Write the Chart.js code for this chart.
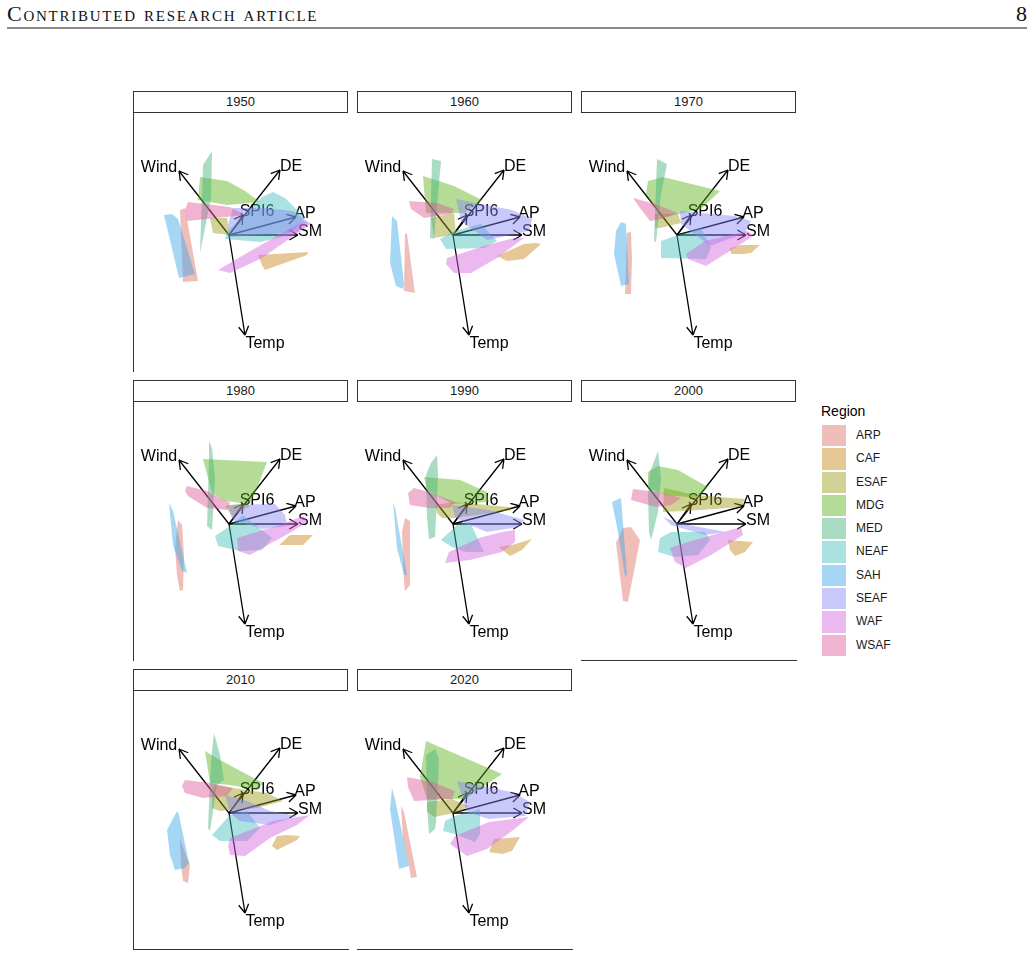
<!DOCTYPE html>
<html>
<head>
<meta charset="utf-8">
<script src="https://cdn.jsdelivr.net/npm/chart.js@4.4.0/dist/chart.umd.min.js"></script>
<style>
  body { margin: 0; background: #fff; }
  #page { position: relative; width: 1033px; height: 957px; overflow: hidden; font-family: "Liberation Sans", Arial, sans-serif; }
  #runhead { position: absolute; left: 7px; top: 1px; font: 22px "Liberation Serif", serif; font-variant: small-caps; letter-spacing: 1.75px; color: #111; white-space: nowrap; }
  #pagenum { position: absolute; right: 6px; top: 1px; font: 22px "Liberation Serif", serif; color: #111; }
  #rule { position: absolute; left: 7px; top: 27px; width: 1020px; height: 2px; background: #8a8a8a; }
  .strip { position: absolute; box-sizing: border-box; width: 215px; height: 22px; border: 1.5px solid #333; background: #fff;
           font-size: 13px; color: #1a1a1a; text-align: center; line-height: 19px; }
  .panel { position: absolute; }
  .axisline { position: absolute; background: #333; }
  #legend { position: absolute; left: 821px; top: 402px; }
  #legend .title { font-size: 14px; color: #000; height: 22px; line-height: 18px; }
  #legend .item { position: relative; height: 23.3px; }
  #legend .key { position: absolute; left: 1px; top: 1px; width: 24px; height: 21.3px; }
  #legend .lab { position: absolute; left: 35px; top: 0; line-height: 23.3px; font-size: 12px; color: #1a1a1a; }
</style>
</head>
<body>
<div id="page">
  <div id="runhead">Contributed research article</div>
  <div id="pagenum">8</div>
  <div id="rule"></div>
  <div id="legend"><div class="title">Region</div></div>
</div>
<script>
const regions = ["ARP", "CAF", "ESAF", "MDG", "MED", "NEAF", "SAH", "SEAF", "WAF", "WSAF"];
const regionColors = ["#DE6F63", "#C78516", "#9B9B16", "#58B116", "#42B17A", "#42BCBC", "#37A6E9", "#8585F4", "#D363DE", "#DE589B"];
const decades = ["1950", "1960", "1970", "1980", "1990", "2000", "2010", "2020"];

// variable loadings (arrow tips) and label anchors
const variables = ["Wind", "DE", "SPI6", "AP", "SM", "Temp"];
const loadingX = [-5.0, 5.1, 1.4, 6.7, 6.9, 1.6];
const loadingY = [6.4, 6.5, 2.0, 1.8, 0.0, -10.0];
const labelX = [-7.0, 6.2, 2.8, 7.6, 8.1, 3.6];
const labelY = [6.7, 6.8, 2.3, 2.1, 0.3, -10.9];

// convex hulls per region (same order as regions), one array per decade
const hull1950 = [
  [[-4.9,2.5],[-4.4,2.7],[-3.1,-4.6],[-4.6,-4.7]],
  [[2.9,-2.0],[7.9,-1.7],[7.8,-2.0],[3.6,-3.5],[3.3,-3.0]],
  [[-1.9,1.7],[-0.2,1.7],[0.1,0],[-1.6,0.2]],
  [[-2.9,5.8],[-0.2,5.4],[1.6,4.4],[3.1,3.3],[-0.2,3.0],[-3.1,3.5]],
  [[-2.6,7.0],[-1.7,8.4],[-1.8,3.7],[-2.9,-1.8]],
  [[4.4,4.3],[5.6,3.7],[7.6,1.7],[6.1,0],[3.1,-0.7],[-0.4,-0.4],[-0.2,0.3],[3.3,3.8]],
  [[-6.5,2.0],[-5.7,2.1],[-5.1,1.6],[-3.4,-3.9],[-5.0,-4.3]],
  [[0.4,2.7],[3.4,2.7],[6.4,2.4],[7.9,1.3],[6.9,0.3],[0.1,-0.2],[-0.1,1.0]],
  [[-1.1,-3.5],[0.1,-3.8],[3.3,-2.3],[8.3,1.2],[7.4,1.4],[1.8,-1.8]],
  [[-4.1,3.3],[0.1,2.8],[1.6,2.0],[-3.2,1.5],[-4.2,1.4],[-4.4,2.5]]
];
const hull1960 = [
  [[-4.8,0.2],[-4.6,0.1],[-3.8,-5.8],[-4.9,-5.6]],
  [[4.4,-2.1],[7.1,-0.9],[8.3,-0.8],[8.8,-0.9],[7.1,-2.4],[5.4,-2.6]],
  [[-2.2,1.7],[0.1,2.2],[0.3,0.1],[-1.9,-0.3]],
  [[-3.0,5.9],[0.1,4.9],[2.9,3.5],[1.1,2.2],[-2.7,2.2]],
  [[-2.1,7.6],[-1.2,7.4],[-1.9,-0.4],[-2.3,-0.3]],
  [[-1.3,-0.4],[0.1,0.4],[2.8,1.1],[4.4,-0.6],[3.1,-1.3],[-0.7,-1.4]],
  [[-6.1,1.9],[-5.6,1.4],[-4.9,-4.9],[-5.0,-5.4],[-5.7,-5.1],[-6.3,-2.8]],
  [[0.3,3.6],[2.8,3.1],[5.9,2.5],[7.9,1.6],[7.6,0.4],[3.4,-0.5],[0.8,1.4]],
  [[-0.7,-2.9],[0.1,-3.8],[1.8,-3.8],[4.4,-2.3],[7.1,-0.3],[6.1,-0.3],[3.1,-1.1],[-0.6,-2.3]],
  [[-4.4,3.4],[-1.6,3.2],[0.1,2.6],[-0.2,2.1],[-2.9,1.7],[-4.2,2.6]]
];
const hull1970 = [
  [[-5.0,0.2],[-4.6,0.3],[-4.5,-2.4],[-4.6,-5.9],[-5.2,-5.9]],
  [[5.3,-1.3],[6.4,-1.0],[8.3,-1.0],[7.4,-1.8],[6.6,-1.9],[5.4,-1.9]],
  [[-2.2,2.1],[0.1,2.1],[0.4,1.2],[-1.7,0.7],[-2.2,0.7]],
  [[-2.9,5.4],[-1.4,5.8],[4.3,4.4],[2.4,2.6],[-1.6,1.7],[-3.1,4.1]],
  [[-2.0,7.6],[-1.0,7.1],[-1.6,4.1],[-2.1,-0.7],[-2.3,-0.6]],
  [[-1.6,-0.6],[0.1,0],[2.4,0.7],[3.4,-1.3],[2.9,-2.4],[-1.6,-2.3]],
  [[-5.6,1.3],[-5.1,1.1],[-4.8,-4.9],[-5.6,-5.1],[-6.3,-1.9],[-6.1,0.4]],
  [[0.3,2.4],[5.8,1.9],[7.4,1.4],[6.8,0.2],[3.3,-1.1],[0.4,1.1]],
  [[0.9,-1.9],[2.8,-0.6],[7.1,0.4],[7.6,-0.1],[6.4,-0.9],[2.9,-3.1],[1.1,-2.4]],
  [[-4.4,3.7],[-2.2,3.1],[0.1,2.2],[-1.6,1.6],[-2.7,1.4],[-3.7,2.7]]
];
const hull1980 = [
  [[-5.1,0.4],[-4.7,-0.1],[-4.5,-3.2],[-4.6,-6.6],[-4.9,-6.7],[-5.2,-5.1],[-5.4,-2.4]],
  [[5.0,-2.1],[6.1,-1.1],[8.4,-1.1],[7.4,-2.1]],
  [[-0.4,1.8],[1.6,2.1],[2.1,1.8],[0.3,0.8]],
  [[-2.6,6.5],[3.8,6.2],[2.8,3.6],[2.1,2.0],[-0.4,2.3],[-1.7,3.1]],
  [[-2.0,8.3],[-1.7,7.6],[-1.4,4.6],[-1.7,-0.6],[-2.2,-0.2],[-2.0,6.6]],
  [[-1.4,-1.2],[0.1,-0.2],[1.4,0.9],[4.3,-1.4],[3.3,-2.6],[1.1,-2.7],[-1.1,-2.2]],
  [[-6.0,2.1],[-5.6,1.3],[-4.2,-4.9],[-4.7,-4.7],[-5.6,-2.1]],
  [[-0.2,1.9],[4.6,2.0],[5.6,0.9],[5.8,-0.2],[3.4,-0.5],[0.4,0.4]],
  [[0.8,-1.4],[4.8,-0.2],[7.4,0.8],[7.9,0.3],[6.4,-0.7],[2.1,-3.1],[0.9,-2.7]],
  [[-4.2,3.8],[-2.2,3.3],[0.1,2.1],[-0.2,1.4],[-2.2,1.6],[-4.1,2.8],[-4.4,3.3]]
];
const hull1990 = [
  [[-4.8,0.6],[-4.3,0.3],[-4.3,-6.1],[-4.8,-6.7],[-4.9,-5.8],[-5.1,-0.8]],
  [[4.6,-2.3],[5.9,-2.1],[7.9,-1.5],[6.9,-2.6],[5.7,-3.2]],
  [[-1.8,1.9],[0.2,2.2],[5.6,1.7],[5.9,1.4],[0.2,0.6],[-1.1,0.6],[-1.6,1.1]],
  [[-2.9,4.7],[0.7,4.4],[3.4,3.2],[3.6,2.2],[-0.1,2.0],[-2.6,3.4]],
  [[-1.6,6.9],[-1.5,4.9],[-1.8,-1.3],[-2.4,-1.5],[-2.6,0.6],[-2.7,4.9],[-2.2,6.1]],
  [[-1.2,-1.6],[0.4,-0.1],[1.7,0.2],[3.1,-2.8],[1.2,-2.8],[-0.1,-2.3]],
  [[-6.0,2.2],[-5.8,1.6],[-4.6,-5.1],[-4.9,-5.1],[-5.6,-2.4]],
  [[-0.1,1.9],[3.6,1.4],[7.1,0.4],[6.6,-0.3],[3.4,-0.8],[1.2,0.1],[0.2,0.7]],
  [[-0.8,-3.9],[-0.4,-2.8],[2.6,-1.4],[4.9,-0.8],[6.2,-0.6],[6.2,-1.8],[4.9,-2.8],[1.7,-3.6]],
  [[-3.9,3.6],[-2.4,3.2],[0.2,2.2],[-0.3,1.6],[-2.4,1.6],[-4.3,1.9],[-4.5,3.1]]
];
const hull2000 = [
  [[-6.1,-1.9],[-5.4,-0.4],[-4.6,-0.3],[-3.7,-1.6],[-4.9,-7.8],[-5.4,-7.7]],
  [[5.1,-1.6],[7.6,-1.8],[6.8,-2.8],[5.8,-3.2],[5.3,-2.6]],
  [[-1.3,3.6],[1.8,2.9],[6.8,2.5],[6.4,1.7],[2.4,1.4],[-1.4,1.2]],
  [[-2.9,5.2],[-1.9,5.8],[0.1,5.4],[3.1,3.7],[2.1,2.6],[-1.2,2.9],[-2.9,3.6]],
  [[-1.9,7.3],[-1.6,4.6],[-1.9,1.2],[-2.6,-1.6],[-2.8,-0.8],[-2.9,2.9],[-2.7,5.2]],
  [[-1.7,-1.4],[-0.6,-0.8],[2.8,-0.8],[3.3,-1.6],[2.1,-3.1],[-0.2,-3.3],[-1.9,-2.8]],
  [[-6.5,2.2],[-5.6,2.6],[-5.0,-5.1],[-5.2,-5.2],[-5.9,-0.8]],
  [[-1.4,0.7],[0.1,0.1],[4.9,-0.8],[2.8,-1.1],[-0.6,-0.1]],
  [[-0.7,-2.4],[1.1,-1.8],[6.4,-0.3],[6.6,-1.1],[3.4,-3.1],[0.9,-4.4],[-0.2,-3.8]],
  [[-4.4,3.5],[-1.9,3.2],[0.4,2.6],[-0.6,1.9],[-2.1,1.7],[-4.6,2.4]]
];
const hull2010 = [
  [[-4.9,-2.5],[-4.4,-4.0],[-3.9,-5.2],[-4.1,-7.0],[-4.6,-6.8],[-4.8,-5.2]],
  [[4.3,-3.3],[4.8,-2.3],[5.8,-2.2],[7.1,-2.3],[6.8,-2.7],[4.8,-3.7]],
  [[-1.4,2.8],[1.1,2.4],[3.8,2.0],[5.4,1.2],[2.8,0.5],[-0.9,0.2],[-1.7,0.5],[-1.7,2.2]],
  [[-2.4,6.2],[-0.9,5.3],[3.4,3.0],[2.8,2.3],[0.1,2.8],[-1.9,3.0]],
  [[-1.5,8.0],[-0.9,5.8],[-0.5,3.3],[-1.2,2.8],[-1.9,-1.8],[-2.1,-1.5],[-1.9,3.2],[-1.7,6.2]],
  [[-1.7,-2.2],[0.1,-0.2],[1.8,0.2],[3.1,-1.5],[1.8,-2.8],[-0.9,-2.8]],
  [[-5.2,0.2],[-5.0,-0.2],[-4.0,-5.0],[-4.4,-5.5],[-5.4,-5.7],[-5.9,-4.2],[-6.2,-1.7]],
  [[-0.4,1.8],[1.8,1.2],[4.1,0.2],[6.8,-0.3],[4.1,-1.2],[1.1,-0.8],[0.1,0]],
  [[-0.1,-3.3],[0.1,-2.5],[4.4,-0.8],[8.1,-0.2],[6.8,-1.2],[4.1,-2.5],[1.6,-4.3],[0.1,-4.2]],
  [[-4.4,3.3],[-1.9,3.0],[0.4,2.5],[-0.2,1.7],[-2.6,1.5],[-4.4,2.0],[-4.7,2.7]]
];
const hull2020 = [
  [[-5.2,0.7],[-4.9,0.1],[-3.6,-6.4],[-4.2,-6.5],[-4.4,-5.3],[-5.0,-2.6]],
  [[3.6,-3.9],[4.1,-2.6],[6.7,-2.4],[5.9,-3.8],[4.9,-4.1]],
  [[-2.6,1.1],[-0.1,1.4],[1.6,0.7],[0.6,0.1],[-1.9,-0.4],[-2.6,0.1]],
  [[-2.7,7.2],[4.9,3.9],[1.2,1.4],[-2.6,1.4],[-3.3,3.6]],
  [[-2.7,5.8],[-1.8,6.4],[-1.4,5.4],[-1.7,-0.9],[-1.8,-1.6],[-2.4,-2.1],[-2.6,0.7]],
  [[-0.8,-0.8],[0.2,-0.3],[2.7,0.4],[2.7,-2.1],[2.2,-2.9],[0.2,-2.1],[-1.0,-1.8]],
  [[-6.1,2.5],[-5.8,1.4],[-4.4,-5.3],[-5.4,-5.6],[-6.3,0.4]],
  [[0.4,3.2],[2.9,2.7],[5.9,2.1],[7.7,1.1],[7.2,-0.3],[3.6,-0.6],[1.4,0.1]],
  [[-0.3,-3.1],[0.2,-2.3],[3.6,-0.9],[7.6,-0.4],[5.9,-1.8],[3.4,-3.6],[1.4,-4.3]],
  [[-4.6,3.6],[-2.1,3.1],[0.2,2.2],[-0.1,1.4],[-3.9,1.2],[-4.5,2.6]]
];
const hulls = [hull1950, hull1960, hull1970, hull1980, hull1990, hull2000, hull2010, hull2020];

const ALPHA = 0.45;
function fade(hex, a) {
  const n = parseInt(hex.slice(1), 16);
  return "rgba(" + (n >> 16) + "," + ((n >> 8) & 255) + "," + (n & 255) + "," + a + ")";
}

// arrows + variable names, under the hulls
const loadingArrows = {
  id: "loadingArrows",
  beforeDatasetsDraw(chart) {
    const { ctx, scales: { x, y } } = chart;
    const x0 = x.getPixelForValue(0), y0 = y.getPixelForValue(0);
    ctx.save();
    ctx.strokeStyle = "#000";
    ctx.lineWidth = 1.3;
    ctx.fillStyle = "#000";
    ctx.font = '16px "Liberation Sans", Arial, sans-serif';
    ctx.textAlign = "center";
    ctx.textBaseline = "middle";
    variables.forEach((v, k) => {
      const x1 = x.getPixelForValue(loadingX[k]);
      const y1 = y.getPixelForValue(loadingY[k]);
      const ang = Math.atan2(y1 - y0, x1 - x0);
      ctx.beginPath();
      ctx.moveTo(x0, y0);
      ctx.lineTo(x1, y1);
      [-1, 1].forEach((s) => {
        ctx.moveTo(x1, y1);
        ctx.lineTo(x1 - 10 * Math.cos(ang + s * Math.PI / 6), y1 - 10 * Math.sin(ang + s * Math.PI / 6));
      });
      ctx.stroke();
      ctx.fillText(v, x.getPixelForValue(labelX[k]), y.getPixelForValue(labelY[k]));
    });
    ctx.restore();
  }
};

const page = document.getElementById("page");
function addBox(cls, left, top, width, height) {
  const d = document.createElement("div");
  d.className = cls;
  d.style.left = left + "px";
  d.style.top = top + "px";
  if (width != null) d.style.width = width + "px";
  if (height != null) d.style.height = height + "px";
  page.appendChild(d);
  return d;
}

decades.forEach((dec, i) => {
  const col = i % 3, row = Math.floor(i / 3);
  const left = 134 + 224 * col, top = 91 + 289 * row;

  const strip = addBox("strip", left - 1, top);
  strip.textContent = dec;

  const canvas = document.createElement("canvas");
  canvas.className = "panel";
  canvas.width = 214;
  canvas.height = 259;
  canvas.style.left = left + "px";
  canvas.style.top = (top + 22) + "px";
  page.appendChild(canvas);

  // facet axis lines: left on first column, bottom where nothing sits below
  if (col === 0) addBox("axisline", left - 1, top + 22, 1, 259);
  if (i >= 5) addBox("axisline", left - 1, top + 22 + 258, 216, 1);

  new Chart(canvas, {
    type: "line",
    data: {
      datasets: hulls[i].map((pts, r) => ({
        label: regions[r],
        data: pts.concat([pts[0]]).map(([x, y]) => ({ x, y })),
        backgroundColor: fade(regionColors[r], ALPHA),
        borderColor: "rgba(0,0,0,0)",
        borderWidth: 0,
        pointRadius: 0,
        fill: "shape",
        order: regions.length - r
      }))
    },
    options: {
      responsive: false,
      animation: false,
      layout: { padding: 0 },
      scales: {
        x: { type: "linear", min: -9.5, max: 11.9, display: false },
        y: { type: "linear", min: -13.7, max: 12.2, display: false }
      },
      plugins: { legend: { display: false }, tooltip: { enabled: false } }
    },
    plugins: [loadingArrows]
  });
});

// legend
const legend = document.getElementById("legend");
regions.forEach((r, k) => {
  const item = document.createElement("div");
  item.className = "item";
  const key = document.createElement("div");
  key.className = "key";
  key.style.background = fade(regionColors[k], ALPHA);
  const lab = document.createElement("div");
  lab.className = "lab";
  lab.textContent = r;
  item.appendChild(key);
  item.appendChild(lab);
  legend.appendChild(item);
});
</script>
</body>
</html>
